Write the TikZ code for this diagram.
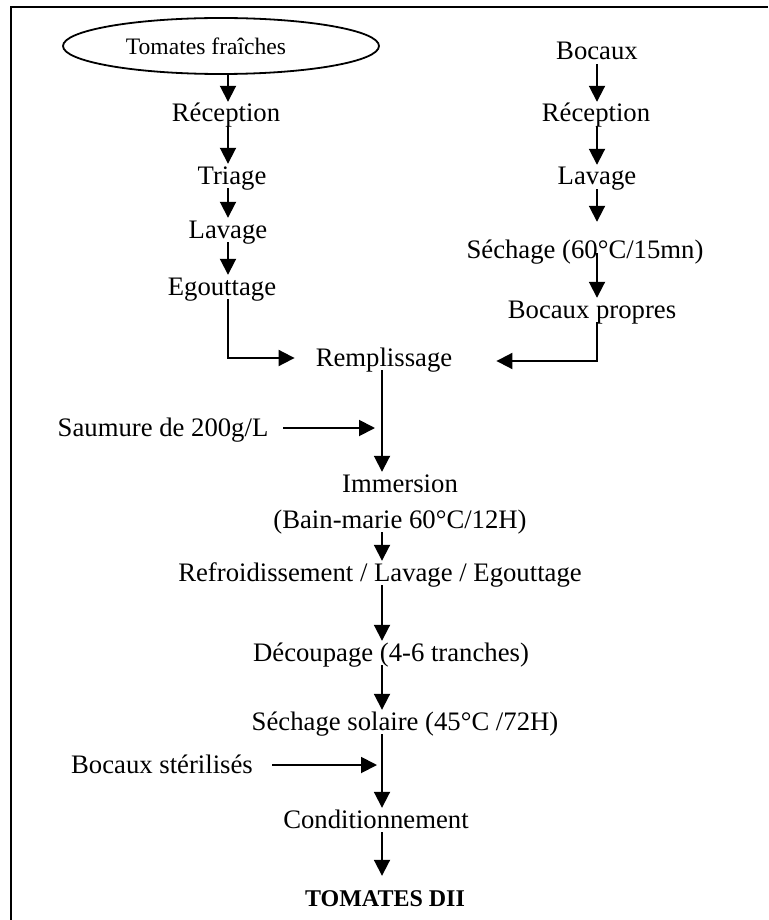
\documentclass[tikz,border=0pt]{standalone}
\usepackage{fontspec}
\setmainfont{Liberation Serif}
\usetikzlibrary{arrows.meta,shapes.geometric}

\begin{document}
\begin{tikzpicture}[x=1pt,y=-1pt,
  etape/.style={font=\fontsize{26.7}{32}\selectfont, inner sep=0pt, text height=20pt, text depth=4pt},
  fleche/.style={line width=1.9pt, -{Triangle[width=16pt,length=16pt]}},
  cadre/.style={line width=2.6pt}]
\useasboundingbox (0,0) rectangle (768,920);
\draw[cadre] (11,920) |- (768,7);

\coordinate (colL) at (228,0);
\coordinate (colR) at (597,0);
\coordinate (colM) at (382,0);

\node[ellipse, draw, line width=1.8pt, minimum width=316pt, minimum height=56pt, inner sep=0pt, font=\fontsize{23.6}{28}\selectfont] (tom) at (221,46) {Tomates fraîches\hspace*{30pt}};
\node[etape] (rec1) at (226,114) {Réception};
\node[etape] (tri) at (232,176) {Triage};
\node[etape] (lav1) at (228,230) {Lavage};
\node[etape] (ego) at (222,287) {Egouttage};

\node[etape] (boc) at (597,52) {Bocaux};
\node[etape] (rec2) at (596,114) {Réception};
\node[etape] (lav2) at (597,177) {Lavage};
\node[etape] (sec) at (585,250) {Séchage (60°C/15mn)};
\node[etape] (bpr) at (592,310) {Bocaux propres};

\node[etape] (rem) at (384,358) {Remplissage};
\node[etape] (sau) at (163,428) {Saumure de 200g/L};
\node[etape] (imm) at (400,484) {Immersion};
\node[etape] (bain) at (400,520) {(Bain-marie 60°C/12H)};
\node[etape] (ref) at (380,573) {Refroidissement / Lavage / Egouttage};
\node[etape] (dec) at (391,653) {Découpage (4-6 tranches)};
\node[etape] (sol) at (405,722) {Séchage solaire (45°C /72H)};
\node[etape] (ster) at (162,765) {Bocaux stérilisés};
\node[etape] (cond) at (376,820) {Conditionnement};
\node[etape, font=\fontsize{24}{28}\selectfont\bfseries] (fin) at (385,898) {TOMATES DII};

\draw[fleche] (tom.south -| colL) -- (rec1.north -| colL);
\draw[fleche] (rec1.south -| colL) -- (tri.north -| colL);
\draw[fleche] (tri.south -| colL) -- (lav1.north -| colL);
\draw[fleche] (lav1.south -| colL) -- (ego.north -| colL);
\draw[fleche, shorten >=21pt] (ego.south -| colL) |- (rem.west);

\draw[fleche] (boc.south -| colR) -- (rec2.north -| colR);
\draw[fleche] (rec2.south -| colR) -- (lav2.north -| colR);
\draw[fleche, shorten >=16pt] (lav2.south -| colR) -- (sec.north -| colR);
\draw[fleche, shorten <=-9pt] (sec.south -| colR) -- (bpr.north -| colR);
\draw[fleche, shorten >=44pt] (bpr.south -| colR) |- ([yshift=-3pt]rem.east);

\draw[fleche] (rem.south -| colM) -- (imm.north -| colM);
\draw[fleche, shorten <=15pt, shorten >=7pt] (sau.east) -- (sau.east -| colM);
\draw[fleche] (bain.south -| colM) -- (ref.north -| colM);
\draw[fleche] (ref.south -| colM) -- (dec.north -| colM);
\draw[fleche] (dec.south -| colM) -- (sol.north -| colM);
\draw[fleche] (sol.south -| colM) -- (cond.north -| colM);
\draw[fleche, shorten <=19pt, shorten >=5pt] (ster.east) -- (ster.east -| colM);
\draw[fleche, shorten >=10pt] (cond.south -| colM) -- (fin.north -| colM);
\end{tikzpicture}
\end{document}
